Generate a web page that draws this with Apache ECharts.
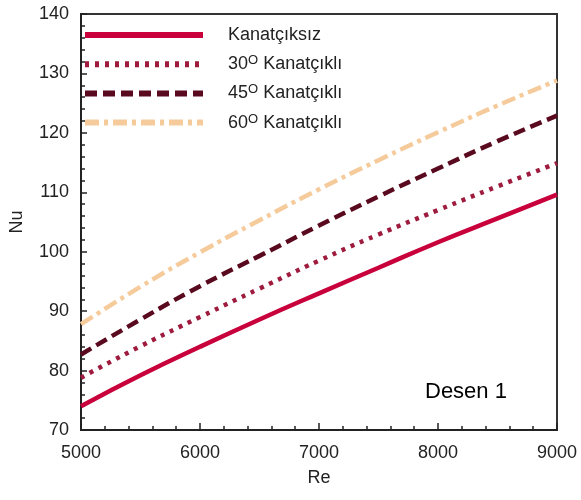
<!DOCTYPE html>
<html><head><meta charset="utf-8">
<script src="https://cdn.jsdelivr.net/npm/echarts@6/dist/echarts.min.js"></script>
<style>html,body{margin:0;padding:0;background:#fff}#c{width:581px;height:500px}</style>
</head><body><div id="c"></div>
<script>
const reValues = [5000, 5500, 6000, 6500, 7000, 7500, 8000, 8500, 9000];
const seriesNames = ['Kanatçıksız', '30O Kanatçıklı', '45O Kanatçıklı', '60O Kanatçıklı'];
const nuKanatciksiz = [74.0, 79.2, 84.0, 88.6, 93.0, 97.3, 101.6, 105.6, 109.6];
const nu30 = [78.8, 84.1, 89.0, 93.8, 98.5, 102.9, 107.0, 111.0, 114.9];
const nu45 = [82.7, 88.6, 94.2, 99.3, 104.4, 109.3, 114.0, 118.6, 122.9];
const nu60 = [87.8, 94.1, 99.9, 105.3, 110.5, 115.4, 120.1, 124.6, 128.8];
const xTicks = [5000, 6000, 7000, 8000, 9000];
const yTicks = [70, 80, 90, 100, 110, 120, 130, 140];

const FONT = 'Liberation Sans, Arial, sans-serif';
const pair = arr => reValues.map((x, i) => [x, arr[i]]);
const styles = [
  {color: '#C8003C', type: 'solid', width: 4.5},
  {color: '#9E1B3E', type: [4, 6], width: 4.5},
  {color: '#5A0A1E', type: [12, 6], width: 4.5},
  {color: '#F6CB9C', type: [14, 5, 4, 5], width: 4.5}
];
const datas = [nuKanatciksiz, nu30, nu45, nu60];

const chart = echarts.init(document.getElementById('c'), null, {renderer: 'canvas'});
chart.setOption({
  animation: false,
  backgroundColor: '#fff',
  grid: {left: 77, right: 24, top: 14, bottom: 70, show: true, borderColor: '#333', borderWidth: 2, backgroundColor: 'transparent'},
  legend: {
    orient: 'vertical', left: 82, top: 25, padding: 0, itemWidth: 118, itemHeight: 14, itemGap: 9.2,
    data: seriesNames,
    itemStyle: {opacity: 0},
    lineStyle: {width: 6},
    formatter: n => n.replace(/^(\d+)O /, '$1{sup|O} '),
    textStyle: {fontFamily: FONT, fontSize: 18, color: '#222', padding: [0, 0, 0, 20], lineHeight: 20,
      rich: {sup: {fontFamily: FONT, fontSize: 13, color: '#222', lineHeight: 13, verticalAlign: 'top'}}}
  },
  xAxis: {
    type: 'value', min: 5000, max: 9000, interval: 1000,
    name: 'Re', nameLocation: 'middle', nameGap: 39,
    nameTextStyle: {fontFamily: FONT, fontSize: 18, color: '#222'},
    axisLine: {show: true, lineStyle: {color: '#222', width: 2}},
    axisTick: {show: true, inside: true, length: 7, lineStyle: {color: '#222', width: 1.5}},
    minorTick: {show: true, splitNumber: 5, length: 4, lineStyle: {color: '#222', width: 1.5}},
    splitLine: {show: false},
    axisLabel: {fontFamily: FONT, fontSize: 18, color: '#222', margin: 14, formatter: v => String(v)}
  },
  yAxis: {
    type: 'value', min: 70, max: 140, interval: 10,
    name: 'Nu', nameLocation: 'middle', nameGap: 55, nameRotate: 90,
    nameTextStyle: {fontFamily: FONT, fontSize: 18, color: '#222'},
    axisLine: {show: true, lineStyle: {color: '#222', width: 2}},
    axisTick: {show: true, inside: true, length: 6, lineStyle: {color: '#222', width: 1.5}},
    minorTick: {show: true, splitNumber: 5, length: 4, lineStyle: {color: '#222', width: 1.5}},
    splitLine: {show: false},
    axisLabel: {fontFamily: FONT, fontSize: 18, color: '#222', margin: 12}
  },
  graphic: [{type: 'text', left: 425, top: 381, style: {text: 'Desen 1', fontFamily: FONT, fontSize: 22, fill: '#000'}}],
  series: seriesNames.map((n, i) => ({
    name: n, type: 'line', data: pair(datas[i]), smooth: true, showSymbol: false, symbol: 'none',
    lineStyle: styles[i], itemStyle: {color: styles[i].color}
  }))
});
</script></body></html>
